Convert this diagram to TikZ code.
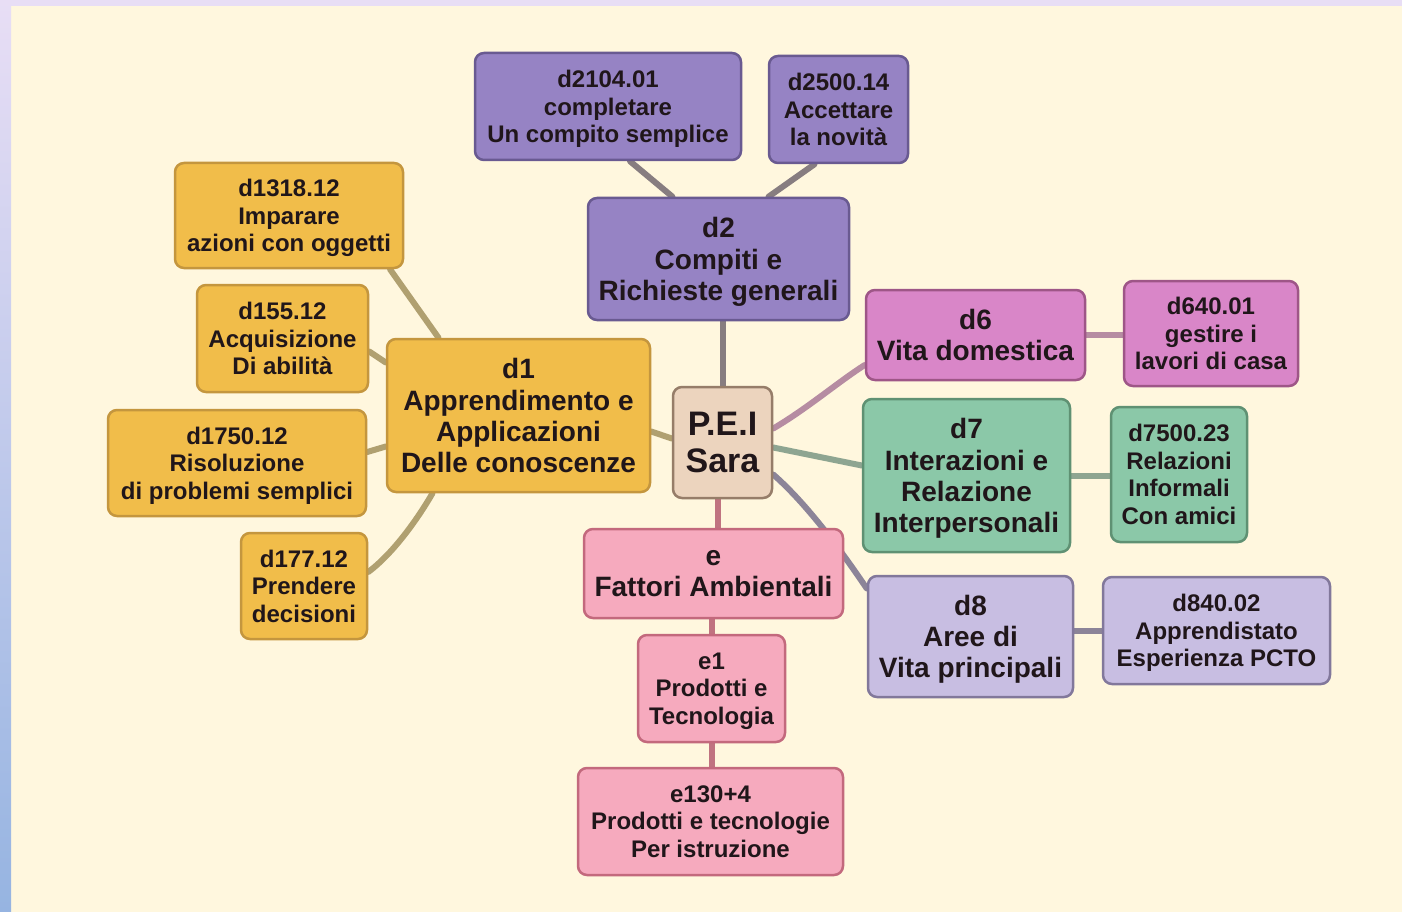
\documentclass[tikz,border=0pt]{standalone}
\usepackage{fontspec}
\setmainfont{Liberation Sans}
\usetikzlibrary{calc}
\pgfdeclarelayer{bg}
\pgfdeclarelayer{edges}
\pgfsetlayers{bg,edges,main}

% palette
\definecolor{cream}{RGB}{255,247,222}
\definecolor{lavtop}{RGB}{232,222,245}
\definecolor{bluebot}{RGB}{150,180,225}
\definecolor{ink}{RGB}{32,22,26}
\definecolor{orfill}{RGB}{241,189,74}
\definecolor{ordraw}{RGB}{196,150,62}
\definecolor{pufill}{RGB}{150,131,196}
\definecolor{pudraw}{RGB}{105,90,145}
\definecolor{mafill}{RGB}{217,134,200}
\definecolor{madraw}{RGB}{158,86,135}
\definecolor{grfill}{RGB}{139,200,168}
\definecolor{grdraw}{RGB}{95,145,115}
\definecolor{pkfill}{RGB}{246,170,190}
\definecolor{pkdraw}{RGB}{195,105,125}
\definecolor{lvfill}{RGB}{200,190,226}
\definecolor{lvdraw}{RGB}{130,120,155}
\definecolor{pefill}{RGB}{236,212,190}
\definecolor{pedraw}{RGB}{150,125,105}
% connector tints
\definecolor{edor}{RGB}{176,160,112}
\definecolor{edpu}{RGB}{135,125,128}
\definecolor{edma}{RGB}{182,140,162}
\definecolor{edgr}{RGB}{142,165,145}
\definecolor{edlv}{RGB}{140,132,152}
\definecolor{edpk}{RGB}{192,115,128}

\tikzset{
  box/.style={draw, rounded corners=9pt, line width=2.5pt, align=center,
    inner sep=0pt, text=ink, text depth=0pt},
  small/.style={box, font=\fontsize{24}{27.5}\selectfont\bfseries},
  large/.style={box, font=\fontsize{28}{31.2}\selectfont\bfseries},
  orbox/.style={fill=orfill, draw=ordraw},
  pubox/.style={fill=pufill, draw=pudraw},
  mabox/.style={fill=mafill, draw=madraw},
  grbox/.style={fill=grfill, draw=grdraw},
  pkbox/.style={fill=pkfill, draw=pkdraw},
  lvbox/.style={fill=lvfill, draw=lvdraw},
  link/.style={line width=6pt, line cap=round},
}

\begin{document}
\begin{tikzpicture}[x=1pt,y=-1pt]
\useasboundingbox (0,0) rectangle (1402,912);

% page background with the tinted frame on the left and top
\begin{pgfonlayer}{bg}
  \fill[cream] (0,0) rectangle (1402,912);
  \shade[top color=lavtop, bottom color=bluebot] (0,0) rectangle (11,912);
  \fill[lavtop] (0,0) rectangle (1402,6);
\end{pgfonlayer}

% central node
\node[box, fill=pefill, draw=pedraw, minimum width=99, minimum height=111,
      font=\fontsize{34}{37}\selectfont\bfseries] (pei) at (722.5,442.5) {P.E.I\\Sara};

% d2 branch
\node[large, pubox, minimum width=261, minimum height=122] (d2) at (718.5,259) {d2\\Compiti e\\Richieste generali};
\node[small, pubox, minimum width=266, minimum height=107] (d2104) at (608,106.5) {d2104.01\\completare\\Un compito semplice};
\node[small, pubox, minimum width=139, minimum height=107] (d2500) at (838.5,109.5) {d2500.14\\Accettare\\la novità};

% d1 branch
\node[large, orbox, minimum width=263, minimum height=153] (d1) at (518.5,415.5) {d1\\Apprendimento e\\Applicazioni\\Delle conoscenze};
\node[small, orbox, minimum width=228, minimum height=105] (d1318) at (289,215.5) {d1318.12\\Imparare\\azioni con oggetti};
\node[small, orbox, minimum width=171, minimum height=107] (d155) at (282.5,338.5) {d155.12\\Acquisizione\\Di abilità};
\node[small, orbox, minimum width=258, minimum height=106] (d1750) at (237,463) {d1750.12\\Risoluzione\\di problemi semplici};
\node[small, orbox, minimum width=126, minimum height=106] (d177) at (304,586) {d177.12\\Prendere\\decisioni};

% d6 branch
\node[large, mabox, minimum width=219, minimum height=90] (d6) at (975.5,335) {d6\\Vita domestica};
\node[small, mabox, minimum width=174, minimum height=105] (d640) at (1211,333.5) {d640.01\\gestire i\\lavori di casa};

% d7 branch
\node[large, grbox, minimum width=207, minimum height=153] (d7) at (966.5,475.5) {d7\\Interazioni e\\Relazione\\Interpersonali};
\node[small, grbox, minimum width=136, minimum height=135] (d7500) at (1179,474.5) {d7500.23\\Relazioni\\Informali\\Con amici};

% d8 branch
\node[large, lvbox, minimum width=205, minimum height=121] (d8) at (970.5,636.5) {d8\\Aree di\\Vita principali};
\node[small, lvbox, minimum width=227, minimum height=107] (d840) at (1216.5,630.5) {d840.02\\Apprendistato\\Esperienza PCTO};

% e branch
\node[large, pkbox, minimum width=259, minimum height=89] (e) at (713.5,573.5) {e\\Fattori Ambientali};
\node[small, pkbox, minimum width=147, minimum height=107] (e1) at (711.5,688.5) {e1\\Prodotti e\\Tecnologia};
\node[small, pkbox, minimum width=265, minimum height=107] (e130) at (710.5,821.5) {e130+4\\Prodotti e tecnologie\\Per istruzione};

% connectors
\begin{pgfonlayer}{edges}
  \draw[link, edpu] ([xshift=22]d2104.south) -- ([xshift=-46]d2.north);
  \draw[link, edpu] ([xshift=-24]d2500.south) -- ([xshift=50]d2.north);
  \draw[link, edpu] (pei.north |- d2.south) -- (pei.north);

  \draw[link, edor] ([xshift=101]d1318.south) -- ([xshift=-80]d1.north);
  \draw[link, edor] ([yshift=-13]d155.east) -- ([yshift=53]d1.west);
  \draw[link, edor] ([yshift=11]d1750.east) -- ([yshift=-31]d1.west);
  \draw[link, edor] ([yshift=14]d177.east) .. controls (395,552) and (420,515) .. ([xshift=-86]d1.south);
  \draw[link, edor] ([yshift=-16]d1.east) -- ([yshift=4]pei.west);

  \draw[link, edma] ([yshift=14]pei.east) .. controls (808,408) and (838,382) .. ([yshift=-30]d6.west);
  \draw[link, edma] (d6.east) -- (d6.east -| d640.west);

  \draw[link, edgr] ([yshift=-5]pei.east) -- ([yshift=10]d7.west);
  \draw[link, edgr] (d7.east) -- (d7.east -| d7500.west);

  \draw[link, edlv] ([yshift=-32]pei.east) .. controls (808,505) and (842,552) .. ([yshift=48]d8.west);
  \draw[link, edlv] (d840.west -| d8.east) -- (d840.west);

  \draw[link, edpk] ([xshift=-5]pei.south) -- ([xshift=4]e.north);
  \draw[link, edpk] (e1.north |- e.south) -- (e1.north);
  \draw[link, edpk] (e1.south) -- (e1.south |- e130.north);
\end{pgfonlayer}
\end{tikzpicture}
\end{document}
